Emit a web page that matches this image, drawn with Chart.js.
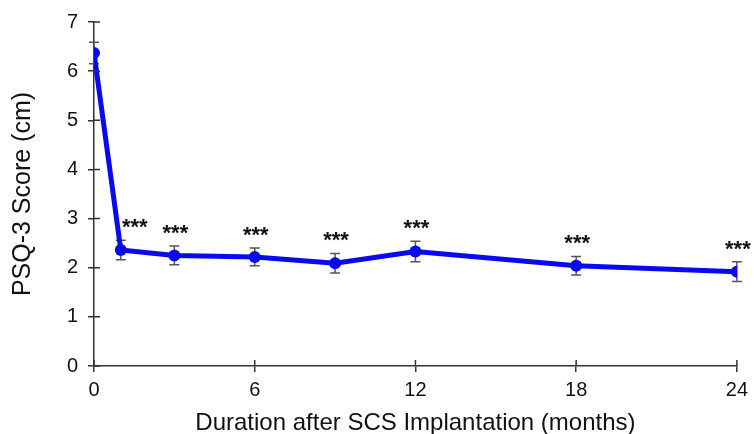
<!DOCTYPE html>
<html>
<head>
<meta charset="utf-8">
<script src="https://cdn.jsdelivr.net/npm/chart.js@4.4.1/dist/chart.umd.min.js"></script>
<style>
  html, body { margin: 0; padding: 0; background: #fff; }
</style>
</head>
<body>
<canvas id="chart" width="754" height="434"></canvas>
<script>
// values
const months = [0, 1, 3, 6, 9, 12, 18, 24];
const scores = [6.37, 2.36, 2.25, 2.22, 2.09, 2.33, 2.04, 1.92];
const errors = [0.22, 0.20, 0.19, 0.18, 0.20, 0.21, 0.19, 0.20];
const stars = ['', '***', '***', '***', '***', '***', '***', '***'];
const xTicks = [0, 6, 12, 18, 24];

const AXIS = '#333';
const FONT = "'Liberation Sans', Arial, sans-serif";

// error bars + significance marks + ticks that cross the axis
const extras = {
    id: 'extras',
    beforeDatasetsDraw(chart) {
        const ctx = chart.ctx;
        const x = chart.scales.x, y = chart.scales.y;
        ctx.save();
        ctx.strokeStyle = '#555';
        ctx.lineWidth = 1.5;
        months.forEach((m, i) => {
            const px = x.getPixelForValue(m);
            const top = y.getPixelForValue(scores[i] + errors[i]);
            const bot = y.getPixelForValue(scores[i] - errors[i]);
            ctx.beginPath();
            ctx.moveTo(px, top); ctx.lineTo(px, bot);
            ctx.moveTo(px - 5, top); ctx.lineTo(px + 5, top);
            ctx.moveTo(px - 5, bot); ctx.lineTo(px + 5, bot);
            ctx.stroke();
        });
        ctx.restore();
    },
    afterDraw(chart) {
        const ctx = chart.ctx;
        const x = chart.scales.x, y = chart.scales.y;
        const area = chart.chartArea;
        ctx.save();
        // inner half of tick marks
        ctx.strokeStyle = AXIS;
        ctx.lineWidth = 1.5;
        ctx.beginPath();
        y.ticks.forEach(t => {
            const py = y.getPixelForValue(t.value);
            ctx.moveTo(area.left, py); ctx.lineTo(area.left + 6, py);
        });
        x.ticks.forEach(t => {
            const px = x.getPixelForValue(t.value);
            ctx.moveTo(px, area.bottom); ctx.lineTo(px, area.bottom - 6);
        });
        ctx.stroke();
        // asterisks
        ctx.fillStyle = '#111';
        ctx.font = 'bold 22px ' + FONT;
        ctx.textAlign = 'center';
        ctx.textBaseline = 'alphabetic';
        months.forEach((m, i) => {
            if (!stars[i]) return;
            const dx = i === 1 ? 14 : 1;
            const px = x.getPixelForValue(m) + dx;
            const top = y.getPixelForValue(scores[i] + errors[i]);
            ctx.fillText(stars[i], px, top - 6);
        });
        ctx.restore();
    }
};

new Chart(document.getElementById('chart'), {
    type: 'line',
    data: {
        datasets: [{
            data: months.map((m, i) => ({x: m, y: scores[i]})),
            borderColor: '#0a0af0',
            backgroundColor: '#0a0af0',
            borderWidth: 5,
            pointRadius: 6,
            pointBorderWidth: 0,
            tension: 0
        }]
    },
    options: {
        responsive: false,
        animation: false,
        layout: { padding: { top: 20, right: 15, left: 0, bottom: 0 } },
        plugins: { legend: { display: false }, tooltip: { enabled: false } },
        scales: {
            x: {
                type: 'linear',
                min: 0, max: 24,
                afterBuildTicks: s => { s.ticks = xTicks.map(v => ({value: v})); },
                afterFit: s => { s.height = 68; },
                border: { display: true, color: AXIS, width: 1.5 },
                grid: { drawOnChartArea: false, drawTicks: true, tickLength: 6, color: AXIS, lineWidth: 1.5 },
                ticks: { color: '#111', padding: 6, font: { family: FONT, size: 20 } },
                title: {
                    display: true,
                    text: 'Duration after SCS Implantation (months)',
                    color: '#111',
                    padding: { top: 4, bottom: -4 },
                    font: { family: FONT, size: 24 }
                }
            },
            y: {
                min: 0, max: 7,
                afterFit: s => { s.width = 94; },
                border: { display: true, color: AXIS, width: 1.5 },
                grid: { drawOnChartArea: false, drawTicks: true, tickLength: 6, color: AXIS, lineWidth: 1.5 },
                ticks: { stepSize: 1, color: '#111', padding: 10, font: { family: FONT, size: 20 } },
                title: {
                    display: true,
                    text: 'PSQ-3 Score (cm)',
                    color: '#111',
                    padding: { top: 8, bottom: 4 },
                    font: { family: FONT, size: 25 }
                }
            }
        }
    },
    plugins: [extras]
});
</script>
</body>
</html>
